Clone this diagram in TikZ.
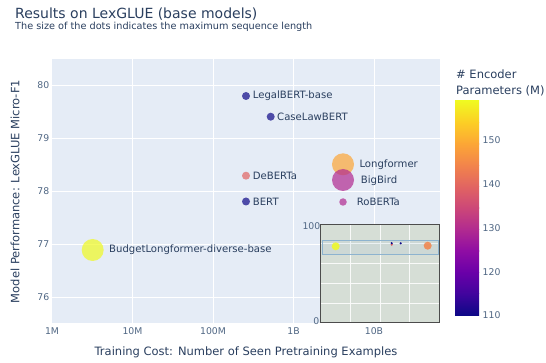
\documentclass[tikz,border=0pt]{standalone}
\usepackage{fontspec}
\setmainfont{DejaVu Sans}
\usetikzlibrary{calc}

% plasma colour scale
\definecolor{pl0}{HTML}{0D0887}
\definecolor{pl1}{HTML}{41049D}
\definecolor{pl2}{HTML}{6A00A8}
\definecolor{pl3}{HTML}{8F0DA4}
\definecolor{pl4}{HTML}{B12A90}
\definecolor{pl5}{HTML}{CC4778}
\definecolor{pl6}{HTML}{E16462}
\definecolor{pl7}{HTML}{F2844B}
\definecolor{pl8}{HTML}{FCA636}
\definecolor{pl9}{HTML}{FCCE25}
\definecolor{pl10}{HTML}{F0F921}
\definecolor{plotbg}{HTML}{E5ECF6}
\definecolor{insetbg}{HTML}{D6DED6}
\definecolor{ink}{HTML}{2A3F5F}
\definecolor{tick}{HTML}{506784}
\definecolor{rangebox}{HTML}{8DB3CF}

\tikzset{
  dot/.style={circle, inner sep=0pt, minimum size=#1, fill opacity=0.7, draw=none},
  pointlabel/.style={anchor=west, inner sep=0pt, text=ink, font=\fontsize{10.1}{12}\selectfont},
  ticklabel/.style={inner sep=0pt, text=tick, font=\fontsize{9.3}{11}\selectfont},
  axistitle/.style={inner sep=0pt, text=ink, font=\fontsize{11.5}{13}\selectfont},
  gridline/.style={draw=white, line width=0.9pt},
  insetgrid/.style={draw=white!85!insetbg, line width=0.7pt},
}

\begin{document}
\begin{tikzpicture}[x=1pt, y=-1pt]
\useasboundingbox[fill=white] (0,0) rectangle (546,363);

% titles
\node[anchor=base west, inner sep=0pt, text=ink, font=\fontsize{14}{16}\selectfont] (title) at (15,18.5) {Results on LexGLUE (base models)};
\node[anchor=base west, inner sep=0pt, text=ink, font=\fontsize{9.7}{11}\selectfont] (subtitle) at (15,29.5) {The size of the dots indicates the maximum sequence length};

% plot area and grid
\fill[plotbg] (52,59) rectangle (439.5,323);
\foreach \gx in {132.5,213,293.5,374} \draw[gridline] (\gx,59) -- (\gx,323);
\foreach \gy in {85,138,191.5,244.5,297.5} \draw[gridline] (52,\gy) -- (439.5,\gy);

% y tick labels
\foreach \gy/\lab in {85/80,138/79,191.5/78,244.5/77,297.5/76}
  \node[ticklabel, anchor=east] at (49.5,\gy) {\lab};
% x tick labels
\foreach \gx/\lab in {52/1M,132.5/10M,213/100M,293.5/1B,374/10B}
  \node[ticklabel, anchor=center] at (\gx,331) {\lab};

% axis titles
\node[axistitle] (xtitle) at (246,352.5) {Training Cost: Number of Seen Pretraining Examples};
\node[axistitle, rotate=90] (ytitle) at (15,191.5) {Model Performance: LexGLUE Micro-F1};

% data points
\node[dot=22pt, fill=pl10] (budget) at (92.7,250) {};
\node[dot=8pt, fill=pl0] (legal) at (246,96) {};
\node[dot=8pt, fill=pl0] (caselaw) at (270.7,116.7) {};
\node[dot=8pt, fill=pl6] (deberta) at (246,175.7) {};
\node[dot=8pt, fill=pl0] (bert) at (246,201.5) {};
\node[dot=22pt, fill=pl8] (longformer) at (343,164.3) {};
\node[dot=22pt, fill=pl4] (bigbird) at (343,180) {};
\node[dot=7.5pt, fill=pl4] (roberta) at (343,202) {};

% point labels
\node[pointlabel] (budgetlab) at (109,250) {BudgetLongformer-diverse-base};
\node[pointlabel] (legallab) at (252.7,96) {LegalBERT-base};
\node[pointlabel] (caselawlab) at (277,116.7) {CaseLawBERT};
\node[pointlabel] (debertalab) at (252.7,175.7) {DeBERTa};
\node[pointlabel] (bertlab) at (252.7,201.5) {BERT};
\node[pointlabel] (longformerlab) at (359.3,164.3) {Longformer};
\node[pointlabel] (bigbirdlab) at (360.7,180.5) {BigBird};
\node[pointlabel] (robertalab) at (356.7,202) {RoBERTa};

% inset overview
\fill[insetbg] (320.7,224) rectangle (439.3,322.7);
\foreach \gx in {350.7,380,409.3} \draw[insetgrid] (\gx,224) -- (\gx,322.7);
\foreach \gy in {243.3,263.3,283.3,303.3} \draw[insetgrid] (320.7,\gy) -- (439.3,\gy);
\draw[draw=black!70, line width=0.9pt] (320.7,224) rectangle (439.3,322.7);
\draw[draw=rangebox, fill=rangebox, fill opacity=0.12, line width=0.9pt] (322.3,240) rectangle (438,254.3);
\node[dot=8pt, fill=pl10, fill opacity=0.85] (ibudget) at (335.7,246.3) {};
\node[dot=8pt, fill=pl7, fill opacity=0.85] (ilong) at (427.7,245.7) {};
\node[dot=2.4pt, fill=pl6, fill opacity=1] (ideberta) at (391.7,244.6) {};
\node[dot=2.4pt, fill=pl0, fill opacity=1] (ilegal) at (391.7,243.2) {};
\node[dot=2.4pt, fill=pl0, fill opacity=1] (icase) at (400.7,243.3) {};
\node[ticklabel, anchor=east] (itop) at (320.5,226) {100};
\node[ticklabel, anchor=east] (ibot) at (319.5,321) {0};

% colour bar
\node[anchor=base west, axistitle] (cbtitle1) at (456,79) {\# Encoder};
\node[anchor=base west, axistitle] (cbtitle2) at (456,95) {Parameters (M)};
\foreach \k [evaluate=\k as \kk using int(10-\k), evaluate=\k as \kn using int(9-\k)] in {0,...,9}
  \shade[top color=pl\kk, bottom color=pl\kn, shading=axis]
    (455,{101+21.4*\k}) rectangle (479,{101+21.4*(\k+1)+0.3});
\foreach \cy/\lab in {140/150,184/140,228/130,272/120,315/110}
  \node[ticklabel, anchor=west] at (482.5,\cy) {\lab};
\end{tikzpicture}
\end{document}
